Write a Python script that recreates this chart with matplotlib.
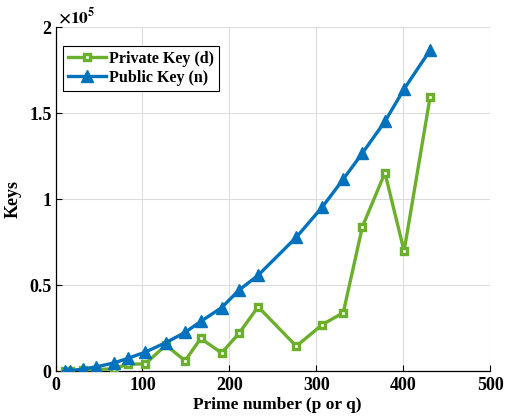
import matplotlib
matplotlib.use("Agg")
import matplotlib.pyplot as plt

# prime p (x axis) and the key sizes
primes = [11, 17, 31, 47, 67, 83, 103, 127, 149, 167, 191, 211, 233, 277, 307, 331, 353, 379, 401, 431]
private_d = [100, 250, 500, 900, 1400, 4000, 4200, 15100, 6000, 19000, 10600, 21900, 37400,
             14500, 27100, 33900, 83900, 115300, 69800, 159500]
public_n = [143, 323, 1147, 2491, 4757, 7387, 11021, 16637, 22499, 28891, 36863, 47053, 55687,
            77837, 95477, 111547, 126727, 145157, 164009, 186623]

x_ticks = [0, 100, 200, 300, 400, 500]
y_ticks = [0, 50000, 100000, 150000, 200000]
y_tick_labels = ["0", "0.5", "1", "1.5", "2"]

GREEN = "#6BAF2C"
BLUE = "#0072BD"

plt.rcParams["font.family"] = ["Liberation Serif", "DejaVu Serif"]
plt.rcParams["font.weight"] = "bold"
plt.rcParams["mathtext.fontset"] = "stix"

fig = plt.figure(figsize=(5.1, 4.17), dpi=100)
ax = fig.add_axes([0.109, 0.110, 0.852, 0.825])

ax.plot(primes, private_d, color=GREEN, lw=2.4, marker="s", ms=3.8,
        mfc="white", mec=GREEN, mew=2.4, label="Private Key (d)", zorder=3)
ax.plot(primes, public_n, color=BLUE, lw=2.4, marker="^", ms=9,
        mfc=BLUE, mec=BLUE, label="Public Key (n)", zorder=4)

ax.set_xlim(0, 500)
ax.set_ylim(0, 200000)
ax.set_xticks(x_ticks)
ax.set_yticks(y_ticks)
ax.set_yticklabels(y_tick_labels)
ax.tick_params(direction="in", labelsize=13, length=4, width=0.8, pad=3)
ax.tick_params(axis="x", pad=4)
for lab in ax.get_xticklabels() + ax.get_yticklabels():
    lab.set_fontweight("bold")

ax.grid(True, color="#dcdcdc", lw=0.8)
ax.set_axisbelow(True)
ax.spines["top"].set_visible(False)
ax.spines["right"].set_visible(False)
ax.spines["left"].set_linewidth(0.9)
ax.spines["bottom"].set_linewidth(0.9)

ax.set_xlabel("Prime number (p or q)", fontsize=12.5, fontweight="bold")
ax.xaxis.set_label_coords(0.51, -0.075, transform=ax.transAxes)
ax.xaxis.label.set_va("top")
ax.set_ylabel("Keys", fontsize=13, fontweight="bold", labelpad=5)

ax.text(0.005, 1.0, r"$\times10^{5}$", transform=ax.transAxes, fontsize=12.5,
        ha="left", va="bottom")

leg = ax.legend(loc="upper left", bbox_to_anchor=(0.01, 0.955), fontsize=11.5,
                frameon=True, fancybox=False, edgecolor="black", framealpha=1,
                handlelength=2.4, borderpad=0.3, labelspacing=0.2, handletextpad=0.2,
                borderaxespad=0.2)
leg.get_frame().set_linewidth(0.8)
for t in leg.get_texts():
    t.set_fontweight("bold")

fig.savefig("out.png", dpi=100)
